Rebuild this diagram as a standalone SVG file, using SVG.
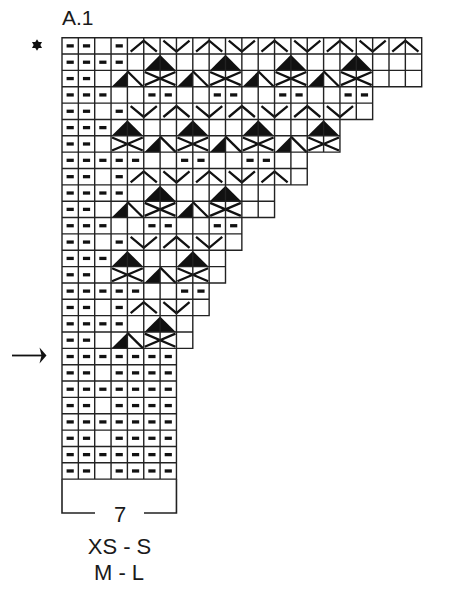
<svg xmlns="http://www.w3.org/2000/svg" xmlns:xlink="http://www.w3.org/1999/xlink" width="469" height="600" viewBox="0 0 469 600">
<style>
text{font-family:"Liberation Sans",Arial,sans-serif;fill:#1a1a1a}
.sym{fill:none;stroke:#111;stroke-width:2.3;stroke-linecap:butt;stroke-linejoin:miter}
.grid{fill:none;stroke:#222;stroke-width:1.4;stroke-linecap:square}
</style>
<defs>
<rect id="d" x="0.28" y="0.4" width="0.44" height="0.2" fill="#111"/>
<path id="up" class="sym" vector-effect="non-scaling-stroke" d="M0.2,0.85 L1,0.18 L1.8,0.85"/>
<path id="dn" class="sym" vector-effect="non-scaling-stroke" d="M0.2,0.18 L1,0.85 L1.8,0.18"/>
<polygon id="tri" points="0.04,1 1,0.05 1.96,1" fill="#111"/>
<g id="half"><polygon points="0.04,1 1,0.05 1,1" fill="#111"/><path class="sym" vector-effect="non-scaling-stroke" d="M1,0.05 L1.96,1"/></g>
<path id="x" class="sym" vector-effect="non-scaling-stroke" d="M0.06,0.1 L1.94,0.9 M0.06,0.9 L1.94,0.1"/>
</defs>
<rect width="469" height="600" fill="#fff"/>
<text x="62" y="25" font-size="21">A.1</text>
<polygon id="star" fill="#111" transform="translate(37 45)" points="0,-5.8 1.7,-2.9 5.02,-2.9 3.35,0 5.02,2.9 1.7,2.9 0,5.8 -1.7,2.9 -5.02,2.9 -3.35,0 -5.02,-2.9 -1.7,-2.9"/>
<g id="arrow">
<line x1="12" y1="355.5" x2="42" y2="355.5" stroke="#111" stroke-width="1.8"/>
<polygon points="46.5,355.5 39.5,347.5 41.5,355.5 39.5,363.5" fill="#111"/>
</g>
<g id="chart" transform="translate(62 37.7) scale(16.35)">
<g id="r1"><use href="#d" x="0" y="0"/><use href="#d" x="1" y="0"/><use href="#d" x="3" y="0"/><use href="#up" x="4" y="0"/><use href="#dn" x="6" y="0"/><use href="#up" x="8" y="0"/><use href="#dn" x="10" y="0"/><use href="#up" x="12" y="0"/><use href="#dn" x="14" y="0"/><use href="#up" x="16" y="0"/><use href="#dn" x="18" y="0"/><use href="#up" x="20" y="0"/></g>
<g id="r2"><use href="#d" x="0" y="1"/><use href="#d" x="1" y="1"/><use href="#d" x="2" y="1"/><use href="#d" x="3" y="1"/><use href="#tri" x="5" y="1"/><use href="#tri" x="9" y="1"/><use href="#tri" x="13" y="1"/><use href="#tri" x="17" y="1"/></g>
<g id="r3"><use href="#d" x="0" y="2"/><use href="#d" x="1" y="2"/><use href="#half" x="3" y="2"/><use href="#x" x="5" y="2"/><use href="#half" x="7" y="2"/><use href="#x" x="9" y="2"/><use href="#half" x="11" y="2"/><use href="#x" x="13" y="2"/><use href="#half" x="15" y="2"/><use href="#x" x="17" y="2"/></g>
<g id="r4"><use href="#d" x="0" y="3"/><use href="#d" x="1" y="3"/><use href="#d" x="2" y="3"/><use href="#d" x="5" y="3"/><use href="#d" x="6" y="3"/><use href="#d" x="9" y="3"/><use href="#d" x="10" y="3"/><use href="#d" x="13" y="3"/><use href="#d" x="14" y="3"/><use href="#d" x="17" y="3"/><use href="#d" x="18" y="3"/></g>
<g id="r5"><use href="#d" x="0" y="4"/><use href="#d" x="1" y="4"/><use href="#d" x="3" y="4"/><use href="#dn" x="4" y="4"/><use href="#up" x="6" y="4"/><use href="#dn" x="8" y="4"/><use href="#up" x="10" y="4"/><use href="#dn" x="12" y="4"/><use href="#up" x="14" y="4"/><use href="#dn" x="16" y="4"/></g>
<g id="r6"><use href="#d" x="0" y="5"/><use href="#d" x="1" y="5"/><use href="#d" x="2" y="5"/><use href="#tri" x="3" y="5"/><use href="#tri" x="7" y="5"/><use href="#tri" x="11" y="5"/><use href="#tri" x="15" y="5"/></g>
<g id="r7"><use href="#d" x="0" y="6"/><use href="#d" x="1" y="6"/><use href="#x" x="3" y="6"/><use href="#half" x="5" y="6"/><use href="#x" x="7" y="6"/><use href="#half" x="9" y="6"/><use href="#x" x="11" y="6"/><use href="#half" x="13" y="6"/><use href="#x" x="15" y="6"/></g>
<g id="r8"><use href="#d" x="0" y="7"/><use href="#d" x="1" y="7"/><use href="#d" x="2" y="7"/><use href="#d" x="3" y="7"/><use href="#d" x="4" y="7"/><use href="#d" x="7" y="7"/><use href="#d" x="8" y="7"/><use href="#d" x="11" y="7"/><use href="#d" x="12" y="7"/></g>
<g id="r9"><use href="#d" x="0" y="8"/><use href="#d" x="1" y="8"/><use href="#d" x="3" y="8"/><use href="#up" x="4" y="8"/><use href="#dn" x="6" y="8"/><use href="#up" x="8" y="8"/><use href="#dn" x="10" y="8"/><use href="#up" x="12" y="8"/></g>
<g id="r10"><use href="#d" x="0" y="9"/><use href="#d" x="1" y="9"/><use href="#d" x="2" y="9"/><use href="#d" x="3" y="9"/><use href="#tri" x="5" y="9"/><use href="#tri" x="9" y="9"/></g>
<g id="r11"><use href="#d" x="0" y="10"/><use href="#d" x="1" y="10"/><use href="#half" x="3" y="10"/><use href="#x" x="5" y="10"/><use href="#half" x="7" y="10"/><use href="#x" x="9" y="10"/></g>
<g id="r12"><use href="#d" x="0" y="11"/><use href="#d" x="1" y="11"/><use href="#d" x="2" y="11"/><use href="#d" x="5" y="11"/><use href="#d" x="6" y="11"/><use href="#d" x="9" y="11"/><use href="#d" x="10" y="11"/></g>
<g id="r13"><use href="#d" x="0" y="12"/><use href="#d" x="1" y="12"/><use href="#d" x="3" y="12"/><use href="#dn" x="4" y="12"/><use href="#up" x="6" y="12"/><use href="#dn" x="8" y="12"/></g>
<g id="r14"><use href="#d" x="0" y="13"/><use href="#d" x="1" y="13"/><use href="#d" x="2" y="13"/><use href="#tri" x="3" y="13"/><use href="#tri" x="7" y="13"/></g>
<g id="r15"><use href="#d" x="0" y="14"/><use href="#d" x="1" y="14"/><use href="#x" x="3" y="14"/><use href="#half" x="5" y="14"/><use href="#x" x="7" y="14"/></g>
<g id="r16"><use href="#d" x="0" y="15"/><use href="#d" x="1" y="15"/><use href="#d" x="2" y="15"/><use href="#d" x="3" y="15"/><use href="#d" x="4" y="15"/><use href="#d" x="7" y="15"/><use href="#d" x="8" y="15"/></g>
<g id="r17"><use href="#d" x="0" y="16"/><use href="#d" x="1" y="16"/><use href="#d" x="3" y="16"/><use href="#up" x="4" y="16"/><use href="#dn" x="6" y="16"/></g>
<g id="r18"><use href="#d" x="0" y="17"/><use href="#d" x="1" y="17"/><use href="#d" x="2" y="17"/><use href="#d" x="3" y="17"/><use href="#tri" x="5" y="17"/></g>
<g id="r19"><use href="#d" x="0" y="18"/><use href="#d" x="1" y="18"/><use href="#half" x="3" y="18"/><use href="#x" x="5" y="18"/></g>
<g id="r20"><use href="#d" x="0" y="19"/><use href="#d" x="1" y="19"/><use href="#d" x="2" y="19"/><use href="#d" x="3" y="19"/><use href="#d" x="4" y="19"/><use href="#d" x="5" y="19"/><use href="#d" x="6" y="19"/></g>
<g id="r21"><use href="#d" x="0" y="20"/><use href="#d" x="1" y="20"/><use href="#d" x="3" y="20"/><use href="#d" x="4" y="20"/><use href="#d" x="5" y="20"/><use href="#d" x="6" y="20"/></g>
<g id="r22"><use href="#d" x="0" y="21"/><use href="#d" x="1" y="21"/><use href="#d" x="2" y="21"/><use href="#d" x="3" y="21"/><use href="#d" x="4" y="21"/><use href="#d" x="5" y="21"/><use href="#d" x="6" y="21"/></g>
<g id="r23"><use href="#d" x="0" y="22"/><use href="#d" x="1" y="22"/><use href="#d" x="3" y="22"/><use href="#d" x="4" y="22"/><use href="#d" x="5" y="22"/><use href="#d" x="6" y="22"/></g>
<g id="r24"><use href="#d" x="0" y="23"/><use href="#d" x="1" y="23"/><use href="#d" x="2" y="23"/><use href="#d" x="3" y="23"/><use href="#d" x="4" y="23"/><use href="#d" x="5" y="23"/><use href="#d" x="6" y="23"/></g>
<g id="r25"><use href="#d" x="0" y="24"/><use href="#d" x="1" y="24"/><use href="#d" x="3" y="24"/><use href="#d" x="4" y="24"/><use href="#d" x="5" y="24"/><use href="#d" x="6" y="24"/></g>
<g id="r26"><use href="#d" x="0" y="25"/><use href="#d" x="1" y="25"/><use href="#d" x="2" y="25"/><use href="#d" x="3" y="25"/><use href="#d" x="4" y="25"/><use href="#d" x="5" y="25"/><use href="#d" x="6" y="25"/></g>
<g id="r27"><use href="#d" x="0" y="26"/><use href="#d" x="1" y="26"/><use href="#d" x="3" y="26"/><use href="#d" x="4" y="26"/><use href="#d" x="5" y="26"/><use href="#d" x="6" y="26"/></g>
<path id="gridlines" class="grid" vector-effect="non-scaling-stroke" d="M0 0H22M0 1H22M0 2H22M0 3H22M0 4H19M0 5H19M0 6H17M0 7H17M0 8H15M0 9H15M0 10H13M0 11H13M0 12H11M0 13H11M0 14H10M0 15H10M0 16H9M0 17H9M0 18H8M0 19H8M0 20H7M0 21H7M0 22H7M0 23H7M0 24H7M0 25H7M0 26H7M0 27H7M0 0V27M1 0V27M2 0V27M3 0V27M4 0V27M5 0V27M6 0V27M7 0V27M8 0V19M9 0V17M10 0V15M11 0V13M12 0V11M13 0V11M14 0V9M15 0V9M16 0V7M17 0V7M18 0V5M19 0V5M20 0V3M21 0V3M22 0V3"/>
</g>
<g id="bracket">
<path d="M62,479.2V513H95M144,513H176.45V479.2" fill="none" stroke="#222" stroke-width="1.6"/>
<text x="120" y="522" font-size="22" text-anchor="middle">7</text>
</g>
<text x="119.5" y="553.5" font-size="22" text-anchor="middle">XS - S</text>
<text x="119" y="580" font-size="22" text-anchor="middle">M - L</text>
</svg>
